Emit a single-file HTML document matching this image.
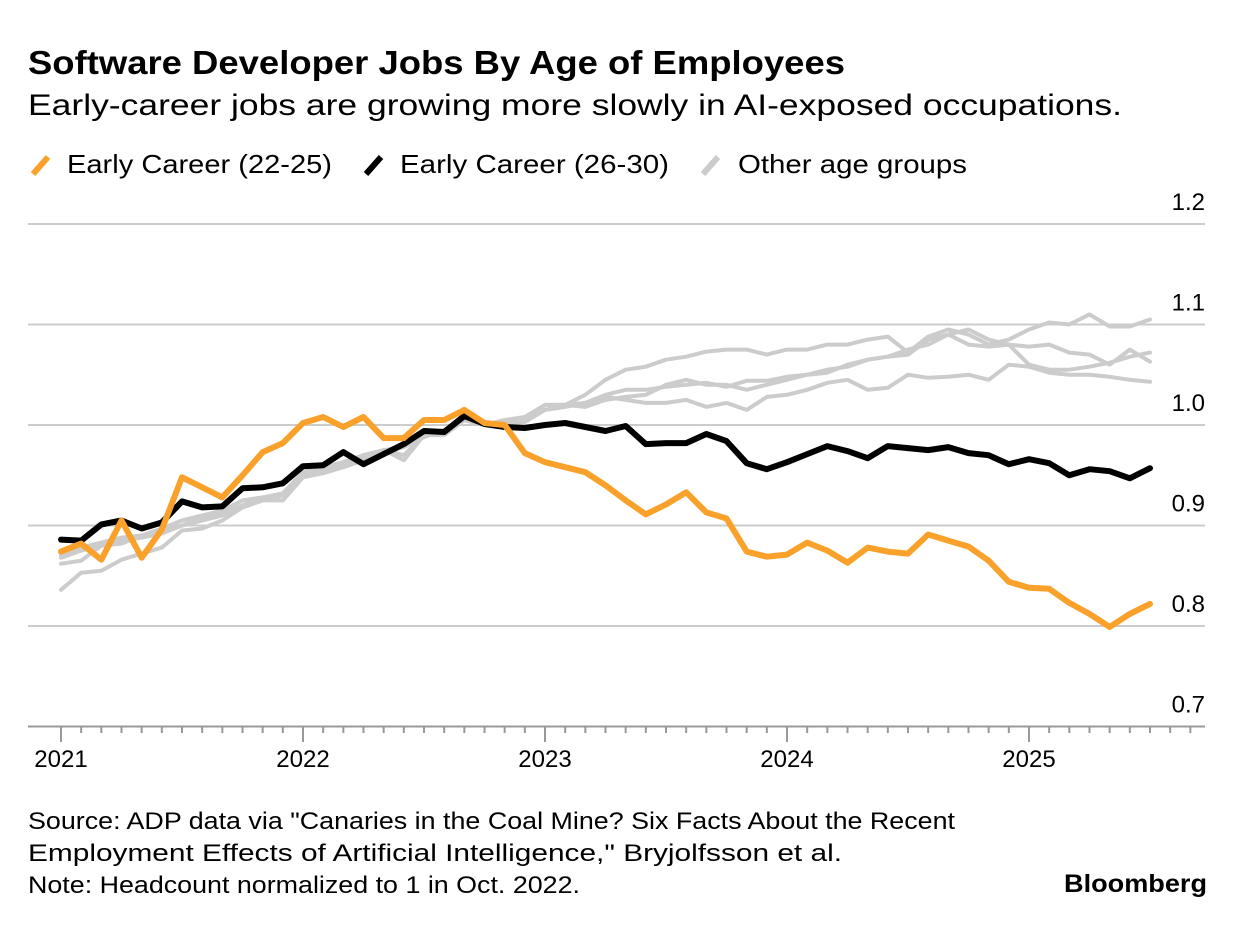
<!DOCTYPE html>
<html><head><meta charset="utf-8"><style>
html,body{margin:0;padding:0;background:#fff;}
body{width:1237px;height:926px;overflow:hidden;font-family:"Liberation Sans",sans-serif;}
</style></head><body>
<svg id="chart" width="1237" height="926" xmlns="http://www.w3.org/2000/svg" font-family="Liberation Sans, sans-serif">
<text x="28" y="74" font-size="33" font-weight="bold" fill="#000" textLength="817" lengthAdjust="spacingAndGlyphs">Software Developer Jobs By Age of Employees</text>
<text x="28" y="115" font-size="30" fill="#000" textLength="1094" lengthAdjust="spacingAndGlyphs">Early-career jobs are growing more slowly in AI-exposed occupations.</text>
<g font-size="26" fill="#000">
<line x1="33" y1="174" x2="48" y2="157" stroke="#f9a12b" stroke-width="6"/>
<text x="67" y="173" textLength="265" lengthAdjust="spacingAndGlyphs">Early Career (22-25)</text>
<line x1="366" y1="174" x2="381" y2="157" stroke="#000" stroke-width="6"/>
<text x="400" y="173" textLength="269" lengthAdjust="spacingAndGlyphs">Early Career (26-30)</text>
<line x1="703" y1="174" x2="718" y2="157" stroke="#ccc" stroke-width="6"/>
<text x="738" y="173" textLength="229" lengthAdjust="spacingAndGlyphs">Other age groups</text>
</g>
<g id="grid"></g>
<g id="series"></g>
<g id="xaxis"></g>
<g font-size="24" fill="#000">
<text x="28" y="829" textLength="927" lengthAdjust="spacingAndGlyphs">Source: ADP data via "Canaries in the Coal Mine? Six Facts About the Recent</text>
<text x="28" y="861" textLength="814" lengthAdjust="spacingAndGlyphs">Employment Effects of Artificial Intelligence," Bryjolfsson et al.</text>
<text x="28" y="893" textLength="552" lengthAdjust="spacingAndGlyphs">Note: Headcount normalized to 1 in Oct. 2022.</text>
<text x="1064" y="892" font-size="25" font-weight="bold" textLength="143" lengthAdjust="spacingAndGlyphs">Bloomberg</text>
</g>
</svg>
<script>
const yTicks=[0.7,0.8,0.9,1.0,1.1,1.2];
const yTickLabels=["0.7","0.8","0.9","1.0","1.1","1.2"];
const xYears=[2021,2022,2023,2024,2025];
const early2225=[0.874,0.882,0.866,0.905,0.868,0.896,0.948,0.938,0.928,0.950,0.973,0.982,1.002,1.008,0.998,1.008,0.987,0.987,1.005,1.005,1.015,1.002,1.000,0.972,0.963,0.958,0.953,0.940,0.925,0.911,0.921,0.933,0.913,0.907,0.874,0.869,0.871,0.883,0.875,0.863,0.878,0.874,0.872,0.891,0.885,0.879,0.865,0.844,0.838,0.837,0.823,0.812,0.799,0.812,0.822];
const early2630=[0.886,0.885,0.901,0.905,0.897,0.903,0.924,0.918,0.919,0.937,0.938,0.942,0.959,0.960,0.973,0.961,0.971,0.981,0.994,0.993,1.009,1.001,0.998,0.997,1.000,1.002,0.998,0.994,0.999,0.981,0.982,0.982,0.991,0.984,0.962,0.956,0.963,0.971,0.979,0.974,0.967,0.979,0.977,0.975,0.978,0.972,0.970,0.961,0.966,0.962,0.950,0.956,0.954,0.947,0.957];
const otherA=[0.862,0.865,0.880,0.885,0.888,0.892,0.900,0.908,0.912,0.920,0.928,0.930,0.950,0.955,0.960,0.970,0.975,0.978,0.990,0.992,1.005,1.000,1.002,1.005,1.020,1.020,1.030,1.045,1.055,1.058,1.065,1.068,1.073,1.075,1.075,1.070,1.075,1.075,1.080,1.080,1.085,1.088,1.072,1.088,1.095,1.090,1.080,1.085,1.095,1.102,1.100,1.110,1.098,1.098,1.105];
const otherB=[0.836,0.853,0.855,0.866,0.872,0.878,0.895,0.897,0.905,0.918,0.925,0.925,0.948,0.952,0.958,0.965,0.975,0.965,0.990,0.990,1.005,1.000,1.002,1.005,1.015,1.018,1.022,1.030,1.035,1.035,1.038,1.040,1.042,1.038,1.044,1.044,1.048,1.050,1.055,1.058,1.065,1.068,1.070,1.085,1.090,1.080,1.078,1.080,1.060,1.055,1.055,1.058,1.062,1.068,1.072];
const otherC=[0.868,0.875,0.880,0.882,0.890,0.895,0.900,0.905,0.910,0.918,0.925,0.930,0.952,0.955,0.962,0.968,0.972,0.978,0.988,0.995,1.005,1.000,1.002,1.003,1.015,1.020,1.018,1.025,1.028,1.030,1.040,1.045,1.040,1.040,1.035,1.040,1.045,1.050,1.052,1.060,1.065,1.068,1.075,1.080,1.090,1.095,1.085,1.080,1.078,1.080,1.072,1.070,1.060,1.075,1.063];
const otherD=[0.870,0.878,0.883,0.888,0.890,0.897,0.905,0.910,0.915,0.925,0.928,0.932,0.953,0.958,0.963,0.970,0.975,0.970,0.990,0.993,1.005,1.000,1.005,1.008,1.020,1.020,1.022,1.028,1.025,1.022,1.022,1.025,1.018,1.022,1.015,1.028,1.030,1.035,1.042,1.045,1.035,1.037,1.050,1.047,1.048,1.050,1.045,1.060,1.058,1.052,1.050,1.050,1.048,1.045,1.043];

const NS="http://www.w3.org/2000/svg";
const X0=61, PX_PER_MONTH=242/12;
function xScale(i){return X0+i*PX_PER_MONTH;}
function yScale(v){return 425-(v-1.0)*1005;}
function mk(tag,attrs,parent){const e=document.createElementNS(NS,tag);for(const k in attrs)e.setAttribute(k,attrs[k]);parent.appendChild(e);return e;}

const grid=document.getElementById('grid');
yTicks.forEach((t,k)=>{
  const y=yScale(t);
  const ln=mk('line',{x1:28,x2:1205,y1:y,y2:y,stroke:t===0.7?'#999':'#ccc','stroke-width':2},grid);
  
  
  const tx=mk('text',{x:1205,y:y-14,'text-anchor':'end','font-size':24,fill:'#000'},grid);
  tx.textContent=yTickLabels[k];
  
  
});

const xa=document.getElementById('xaxis');
for(let m=0;m<=56;m++){
  const x=xScale(m);
  const major=m%12===0;
  const tk=mk('line',{x1:x,x2:x,y1:726,y2:major?742:733,stroke:'#999','stroke-width':2},xa);
  
  
}
xYears.forEach((yr,k)=>{
  const tx=mk('text',{x:xScale(k*12),y:767,'text-anchor':'middle','font-size':24,fill:'#000'},xa);
  tx.textContent=String(yr);
  
  
});

const sg=document.getElementById('series');
function drawLine(arr,color,w,name){
  const d=arr.map((v,i)=>(i?'L':'M')+xScale(i).toFixed(1)+' '+yScale(v).toFixed(1)).join(' ');
  const p=mk('path',{d:d,fill:'none',stroke:color,'stroke-width':w,'stroke-linejoin':'round','stroke-linecap':'round'},sg);
  
  
}
drawLine(otherD,'#cccccc',4,'line-other-d');
drawLine(otherC,'#cccccc',4,'line-other-c');
drawLine(otherB,'#cccccc',4,'line-other-b');
drawLine(otherA,'#cccccc',4,'line-other-a');
drawLine(early2630,'#000000',6,'line-early-career-26-30');
drawLine(early2225,'#f9a12b',6,'line-early-career-22-25');
</script>
</body></html>
